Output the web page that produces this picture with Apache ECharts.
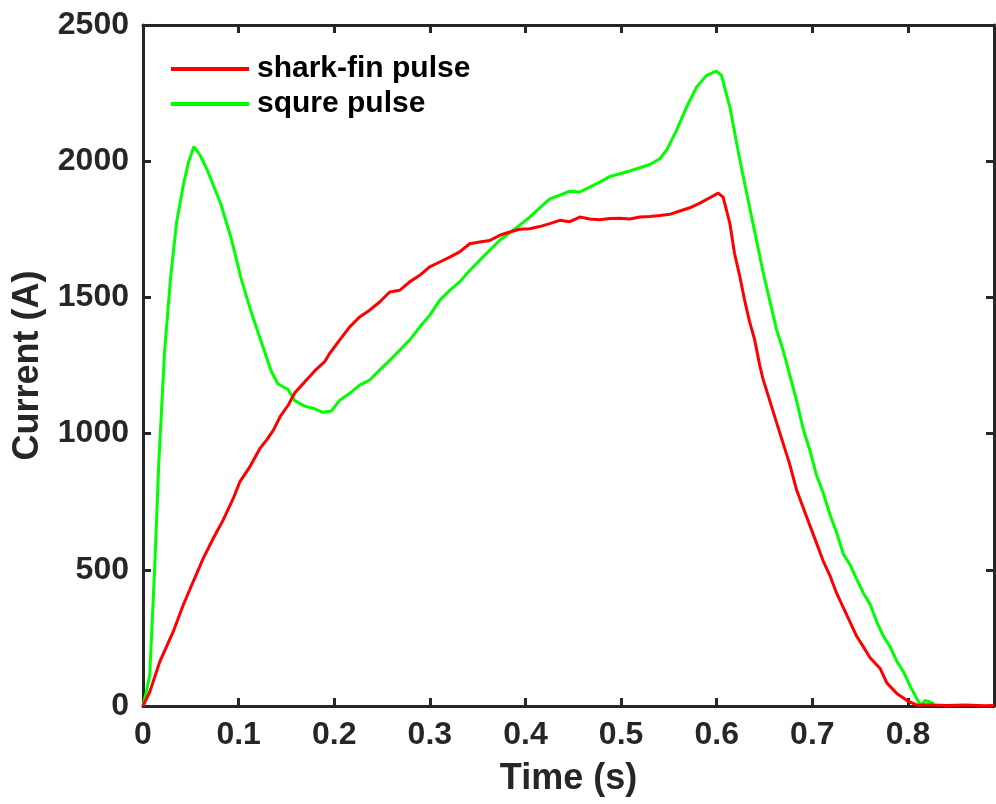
<!DOCTYPE html>
<html>
<head>
<meta charset="utf-8">
<script src="https://cdn.jsdelivr.net/npm/echarts@6/dist/echarts.min.js"></script>
<style>
html,body{margin:0;padding:0;background:#fff;}
#chart{width:996px;height:804px;}
</style>
</head>
<body>
<div id="chart"></div>
<script>
// Shark-fin pulse (red)
const timeShark = [0,0.007,0.0175,0.0315,0.042,0.0524,0.063,0.0734,0.0839,0.0944,0.1014,0.1119,0.1224,0.1294,0.1364,0.1434,0.152,0.1586,0.169,0.1796,0.19,0.1952,0.2056,0.216,0.2265,0.237,0.2475,0.258,0.2684,0.2789,0.2894,0.2998,0.3103,0.3208,0.3312,0.3417,0.3521,0.3626,0.3731,0.3835,0.394,0.4044,0.4149,0.4254,0.4358,0.4463,0.4568,0.4672,0.4777,0.4882,0.4986,0.5091,0.5196,0.53,0.5405,0.5509,0.5614,0.5719,0.5824,0.5928,0.6015,0.6067,0.6138,0.6186,0.6238,0.6291,0.6343,0.6396,0.6448,0.6483,0.6553,0.6623,0.6693,0.6764,0.6834,0.6904,0.6974,0.7044,0.7114,0.7184,0.7254,0.7324,0.7394,0.7464,0.7534,0.7604,0.7709,0.7779,0.7884,0.7989,0.8095,0.82,0.84,0.86,0.88,0.89];
const currentShark = [0,51,162,272,370,456,542,615,683,762,824,879,946,977,1013,1062,1105,1149,1189,1230,1264,1294,1343,1391,1428,1453,1483,1520,1526,1557,1581,1612,1630,1648,1667,1697,1703,1709,1728,1740,1750,1752,1760,1771,1783,1778,1795,1788,1785,1790,1791,1788,1795,1797,1801,1805,1817,1829,1846,1866,1883,1868,1771,1662,1583,1491,1412,1346,1254,1202,1123,1044,966,887,795,729,663,598,532,479,414,361,309,256,217,177,138,85,46,20,3,5,2,4,1,2];

// Square pulse (green)
const timeSquare = [0,0.004,0.007,0.0122,0.0165,0.0225,0.0288,0.0351,0.0421,0.0475,0.0533,0.06,0.0674,0.0814,0.0919,0.1025,0.113,0.1235,0.134,0.141,0.1516,0.1586,0.169,0.1796,0.188,0.197,0.2056,0.216,0.2265,0.237,0.2475,0.258,0.2684,0.2789,0.2894,0.2998,0.3103,0.3208,0.3312,0.3417,0.3521,0.3626,0.3731,0.3835,0.394,0.4044,0.4149,0.4254,0.4358,0.4463,0.4568,0.4672,0.4777,0.4882,0.4986,0.5091,0.5196,0.53,0.5405,0.5475,0.558,0.5684,0.5789,0.5894,0.5998,0.605,0.6138,0.6221,0.6273,0.6343,0.6413,0.6483,0.6553,0.6623,0.6693,0.6764,0.6834,0.6904,0.6974,0.7044,0.7114,0.7184,0.7254,0.7324,0.7394,0.7464,0.7534,0.7604,0.7674,0.7744,0.7814,0.7884,0.7954,0.8024,0.8095,0.813,0.818,0.823,0.827];
const currentSquare = [0,60,113,505,890,1298,1571,1775,1911,1995,2054,2020,1966,1843,1721,1571,1448,1339,1230,1183,1162,1121,1101,1091,1078,1083,1122,1147,1178,1196,1233,1269,1306,1343,1391,1434,1489,1526,1557,1599,1636,1673,1710,1737,1765,1795,1829,1862,1875,1890,1887,1905,1923,1944,1954,1964,1976,1988,2009,2040,2113,2198,2272,2315,2331,2315,2198,2043,1951,1833,1715,1596,1491,1386,1307,1215,1123,1018,939,847,782,703,637,558,519,466,414,374,309,256,217,164,125,72,26,2,20,15,8];

const seriesNames = ['shark-fin pulse', 'squre pulse'];
const xTitle = 'Time (s)';
const yTitle = 'Current (A)';

const axisColor = '#262626';
const fontFamily = '"Liberation Sans", Arial, Helvetica, sans-serif';

function pairs(xs, ys){ return xs.map((x,i)=>[x, ys[i]]); }

const chart = echarts.init(document.getElementById('chart'), null, {renderer:'canvas'});

const baseAxisLine = {show:true, onZero:false, lineStyle:{color:axisColor, width:3}};
const baseTick = {show:true, inside:true, length:8, lineStyle:{color:axisColor, width:3}};

chart.setOption({
  animation:false,
  backgroundColor:'#fff',
  grid:{left:143, right:2, top:25, bottom:98, containLabel:false},
  legend:{
    orient:'vertical',
    left:171,
    top:54,
    padding:0,
    itemWidth:78,
    itemHeight:4,
    itemGap:5,
    icon:'rect',
    data:seriesNames,
    textStyle:{fontSize:30, fontWeight:'bold', color:'#000', fontFamily:fontFamily, padding:[0,0,0,3]}
  },
  xAxis:[{
    type:'value', min:0, max:0.89, interval:0.1, position:'bottom',
    axisLine:baseAxisLine, axisTick:baseTick, splitLine:{show:false},
    axisLabel:{fontSize:32, fontWeight:'bold', color:axisColor, fontFamily:fontFamily, margin:13, showMaxLabel:false,
      formatter:function(v){ return Math.abs(v*10 - Math.round(v*10))<1e-6 ? String(Math.round(v*10)/10) : ''; }},
    name:xTitle, nameLocation:'middle', nameGap:55,
    nameTextStyle:{fontSize:36, fontWeight:'bold', color:axisColor, fontFamily:fontFamily}
  },{
    type:'value', min:0, max:0.89, interval:0.1, position:'top',
    axisLine:baseAxisLine, axisTick:baseTick, splitLine:{show:false}, axisLabel:{show:false}
  }],
  yAxis:[{
    type:'value', min:0, max:2500, interval:500, position:'left',
    axisLine:baseAxisLine, axisTick:baseTick, splitLine:{show:false},
    axisLabel:{fontSize:32, fontWeight:'bold', color:axisColor, fontFamily:fontFamily, margin:14,
      formatter:function(v){ return String(v); }},
    name:yTitle, nameLocation:'middle', nameGap:97, nameRotate:90,
    nameTextStyle:{fontSize:36, fontWeight:'bold', color:axisColor, fontFamily:fontFamily}
  },{
    type:'value', min:0, max:2500, interval:500, position:'right',
    axisLine:baseAxisLine, axisTick:baseTick, splitLine:{show:false}, axisLabel:{show:false}
  }],
  series:[{
    name:seriesNames[0], type:'line', showSymbol:false, symbol:'none',
    data:pairs(timeShark, currentShark),
    lineStyle:{color:'#ff0000', width:3}, itemStyle:{color:'#ff0000'}, z:3
  },{
    name:seriesNames[1], type:'line', showSymbol:false, symbol:'none',
    data:pairs(timeSquare, currentSquare),
    lineStyle:{color:'#00ff00', width:3}, itemStyle:{color:'#00ff00'}, z:2
  }]
});
</script>
</body>
</html>
